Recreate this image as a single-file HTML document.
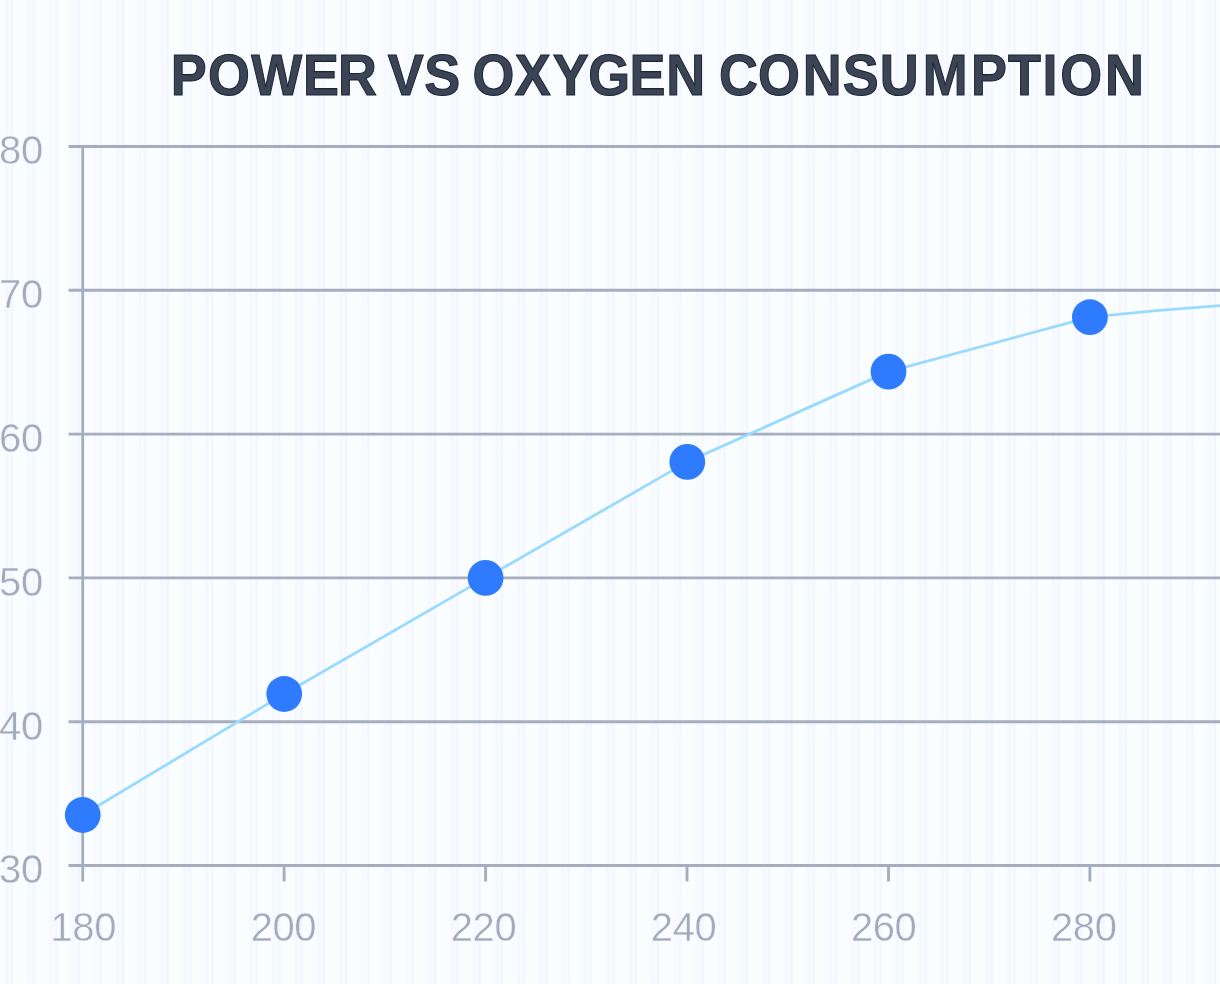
<!DOCTYPE html>
<html lang="en">
<head>
<meta charset="utf-8">
<title>Power vs Oxygen Consumption</title>
<style>
html,body{margin:0;padding:0;background:#f9fcff;}
body{width:1220px;height:984px;overflow:hidden;font-family:"Liberation Sans",sans-serif;}
svg{display:block;}
.lbl{font-family:"Liberation Sans",sans-serif;font-size:40px;fill:#a2aabd;stroke:#f9fcff;stroke-width:0.4;letter-spacing:-0.4px;}
.ttl{font-family:"Liberation Sans",sans-serif;font-weight:700;font-size:58px;fill:#3a4455;stroke:#1b2432;stroke-width:1.1;}
</style>
</head>
<body>
<svg width="1220" height="984" viewBox="0 0 1220 984">
  <defs>
    <linearGradient id="sg" x1="0" y1="0" x2="1" y2="0">
      <stop offset="0" stop-color="#f9fcff"/>
      <stop offset="0.08" stop-color="#fbfeff"/>
      <stop offset="0.60" stop-color="#fafdff"/>
      <stop offset="0.68" stop-color="#f4f8ff"/>
      <stop offset="0.74" stop-color="#f4f8ff"/>
      <stop offset="0.79" stop-color="#f8fbff"/>
      <stop offset="0.88" stop-color="#f7faff"/>
      <stop offset="0.93" stop-color="#f2f6fe"/>
      <stop offset="0.98" stop-color="#f2f6fe"/>
      <stop offset="1" stop-color="#f7faff"/>
    </linearGradient>
    <pattern id="stripes" x="-9.38" y="0" width="22.28" height="984" patternUnits="userSpaceOnUse">
      <rect x="0" y="0" width="22.4" height="984" fill="url(#sg)"/>
    </pattern>
  </defs>
  <rect width="1220" height="984" fill="#f9fcff"/>
  <rect width="1220" height="984" fill="url(#stripes)"/>
  <!-- title -->
  <text class="ttl" transform="scale(0.9288,1)" y="94.8" x="183.8 224.0 270.5 326.1 364.0 390.8 417.6 456.7 482.8 508.8 554.3 595.2 633.4 677.7 717.4 745.7 774.0 816.2 864.3 907.4 947.3 993.4 1045.4 1085.3 1122.5 1141.4 1189.8">POWER VS OXYGEN CONSUMPTION</text>
  <!-- grid -->
  <g stroke="#a5adbf" stroke-width="2.9" fill="none">
    <line x1="68.5" y1="146.5" x2="1220" y2="146.5"/>
    <line x1="68.5" y1="290.3" x2="1220" y2="290.3"/>
    <line x1="68.5" y1="434.1" x2="1220" y2="434.1"/>
    <line x1="68.5" y1="577.9" x2="1220" y2="577.9"/>
    <line x1="68.5" y1="721.7" x2="1220" y2="721.7"/>
    <line x1="68.5" y1="865.5" x2="1220" y2="865.5"/>
    <line x1="82.7" y1="146.5" x2="82.7" y2="881.5"/>
    <line x1="284.1" y1="865.5" x2="284.1" y2="881.5"/>
    <line x1="485.6" y1="865.5" x2="485.6" y2="881.5"/>
    <line x1="687.0" y1="865.5" x2="687.0" y2="881.5"/>
    <line x1="888.5" y1="865.5" x2="888.5" y2="881.5"/>
    <line x1="1089.9" y1="865.5" x2="1089.9" y2="881.5"/>
  </g>
  <!-- curve -->
  <path d="M82.7 815 L284.2 694.0 L485.6 577.9 L687.3 461.9 L888.5 371.6 L1089.9 317.2 Q1155 309.9 1221 305.5" stroke="#9adaff" stroke-width="2.8" fill="none" stroke-linejoin="round"/>
  <g fill="#2f7bff">
    <circle cx="82.7" cy="815" r="17.9"/>
    <circle cx="284.2" cy="694.0" r="17.9"/>
    <circle cx="485.6" cy="577.9" r="17.9"/>
    <circle cx="687.3" cy="461.9" r="17.9"/>
    <circle cx="888.5" cy="371.6" r="17.9"/>
    <circle cx="1089.9" cy="317.2" r="17.9"/>
  </g>
  <!-- y labels -->
  <g class="lbl" text-anchor="end">
    <text x="42.8" y="164.4">80</text>
    <text x="42.8" y="308.2">70</text>
    <text x="42.8" y="452.0">60</text>
    <text x="42.8" y="595.8">50</text>
    <text x="42.8" y="739.6">40</text>
    <text x="42.8" y="883.4">30</text>
  </g>
  <!-- x labels -->
  <g class="lbl" text-anchor="middle">
    <text x="83.3" y="941.2">180</text>
    <text x="283.4" y="941.2">200</text>
    <text x="483.5" y="941.2">220</text>
    <text x="683.6" y="941.2">240</text>
    <text x="883.7" y="941.2">260</text>
    <text x="1083.8" y="941.2">280</text>
  </g>
</svg>
</body>
</html>
